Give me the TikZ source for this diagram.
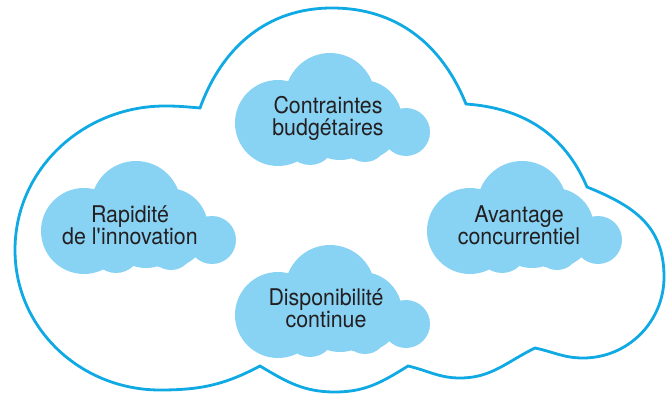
\documentclass[tikz,border=0pt]{standalone}
\usepackage{fontspec}
\setmainfont{TeX Gyre Heros}[FakeStretch=0.93]
\definecolor{rim}{HTML}{0FA9E3}
\definecolor{puff}{HTML}{88D3F4}
\definecolor{ink}{HTML}{231F20}

\begin{document}
\begin{tikzpicture}[x=1pt,y=1pt,inner sep=0pt,
  cloudtext/.style={align=center,text=ink,font=\fontsize{23}{22}\selectfont},
  puffcloud/.pic={
    \fill[puff] (0,17) circle (45) (-52,-8) circle (43) (32,-5) circle (40)
      (76,-17) circle (24) (-20,-25) circle (25) (35,-25) circle (22)
      (10,-5) circle (40);
  }]
\useasboundingbox (0,0) rectangle (671,394);
% big outline
\draw[rim,line width=2.8pt] (200,286) to[out=70,in=180] (332,386)
  to[out=0,in=112] (466,290) to[out=-4,in=113] (587,207)
  to[out=-22,in=90,looseness=1.1] (664,117) to[out=-90,in=0] (583,36)
  to[out=180,in=-12] (535,46) to[out=206,in=0] (460,16)
  to[out=180,in=-13] (408,28) to[out=212,in=0] (335,2)
  to[out=180,in=-31] (260,28) to[out=208,in=0] (160,4)
  to[out=180,in=-90] (15,144) to[out=90,in=180] (165,288)
  to[out=0,in=175] cycle;
%
\pic at (330,279) {puffcloud};
\pic at (136,171) {puffcloud};
\pic at (522,171) {puffcloud};
\pic at (330,87) {puffcloud};
\node[cloudtext] (budget) at (328,276) {Contraintes\\budgétaires};
\node[cloudtext] (speed) at (130,169) {Rapidité\\de l\textquotesingle innovation};
\node[cloudtext] (edge) at (519,169) {Avantage\\concurrentiel};
\node[cloudtext] (uptime) at (326,86) {Disponibilité\\continue};
\end{tikzpicture}
\end{document}
